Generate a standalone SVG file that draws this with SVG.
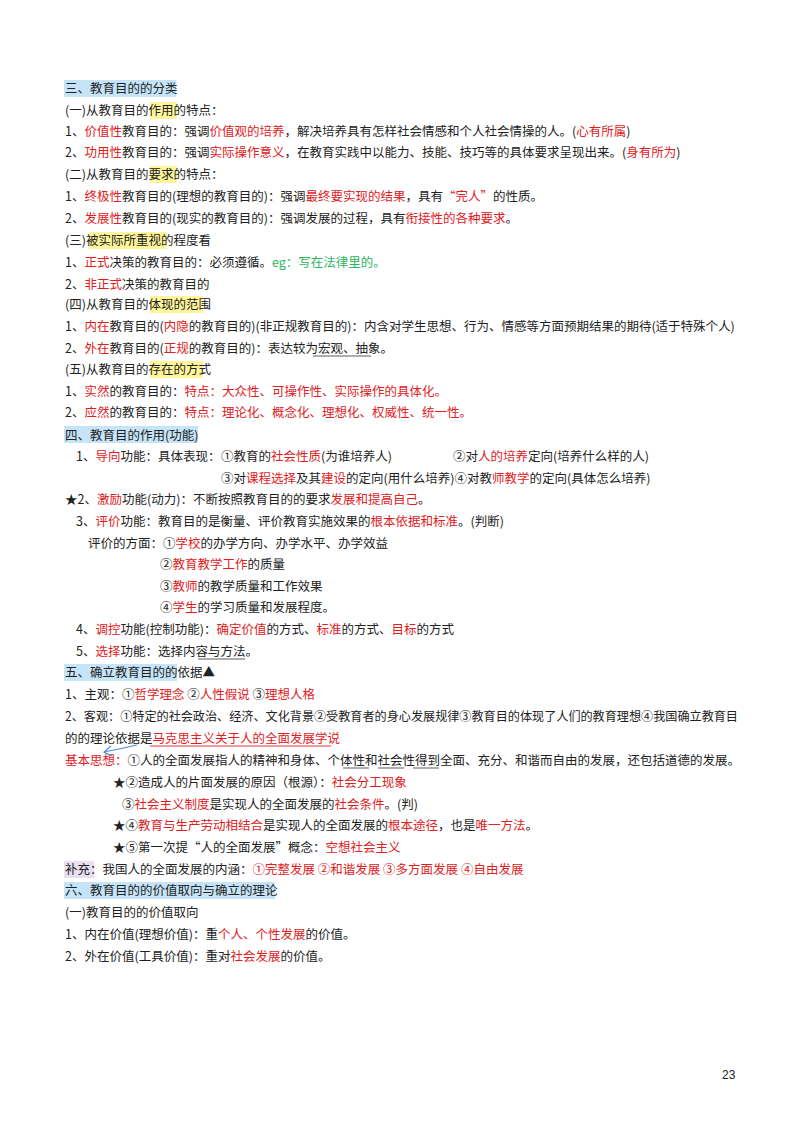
<svg xmlns="http://www.w3.org/2000/svg" width="800" height="1130" viewBox="0 0 800 1130">
<style>
text{font-family:"Noto Sans CJK SC","Noto Sans",sans-serif;font-size:12.5px;fill:#222}
.r{fill:#e0201c}.g{fill:#2bb55c}
.hb{fill:#c5e4f8}.hy{fill:#fff59a}.hp{fill:#e8e0f0}
.u{stroke:#333;stroke-width:0.8}.ur{stroke:#e0201c;stroke-width:0.9}
</style>
<rect width="800" height="1130" fill="#fff"/>
<g id="highlights">
<rect class="hb" x="64" y="80" width="112" height="17"/>
<rect class="hy" x="150" y="102" width="27" height="17"/>
<rect class="hy" x="150" y="166" width="27" height="17"/>
<rect class="hy" x="89" y="232" width="78" height="17"/>
<rect class="hy" x="150" y="296" width="53" height="17"/>
<rect class="hy" x="150" y="361" width="53" height="17"/>
<rect class="hb" x="64" y="426" width="134" height="17"/>
<rect class="hb" x="64" y="664" width="113" height="17"/>
<rect class="hp" x="64" y="861" width="30" height="17"/>
<rect class="hb" x="64" y="882" width="211" height="17"/>
</g>
<g id="text">
<text x="65" y="93">三、教育目的的分类</text>
<text x="65" y="115">(一)从教育目的作用的特点：</text>
<text x="65" y="136">1、<tspan class="r">价值性</tspan>教育目的：强调<tspan class="r">价值观的培养</tspan>，解决培养具有怎样社会情感和个人社会情操的人。(<tspan class="r">心有所属</tspan>)</text>
<text x="65" y="157">2、<tspan class="r">功用性</tspan>教育目的：强调<tspan class="r">实际操作意义</tspan>，在教育实践中以能力、技能、技巧等的具体要求呈现出来。(<tspan class="r">身有所为</tspan>)</text>
<text x="65" y="179">(二)从教育目的要求的特点：</text>
<text x="65" y="201">1、<tspan class="r">终极性</tspan>教育目的(理想的教育目的)：强调<tspan class="r">最终要实现的结果</tspan>，具有<tspan class="r">“完人”</tspan>的性质。</text>
<text x="65" y="223">2、<tspan class="r">发展性</tspan>教育目的(现实的教育目的)：强调发展的过程，具有<tspan class="r">衔接性的各种要求</tspan>。</text>
<text x="65" y="245">(三)被实际所重视的程度看</text>
<text x="65" y="267">1、<tspan class="r">正式</tspan>决策的教育目的：必须遵循。<tspan class="g">eg：写在法律里的。</tspan></text>
<text x="65" y="289">2、<tspan class="r">非正式</tspan>决策的教育目的</text>
<text x="65" y="309">(四)从教育目的体现的范围</text>
<text x="65" y="331">1、<tspan class="r">内在</tspan>教育目的(<tspan class="r">内隐</tspan>的教育目的)(非正规教育目的)：内含对学生思想、行为、情感等方面预期结果的期待(适于特殊个人)</text>
<text x="65" y="353">2、<tspan class="r">外在</tspan>教育目的(<tspan class="r">正规</tspan>的教育目的)：表达较为宏观、抽象。</text>
<text x="65" y="374">(五)从教育目的存在的方式</text>
<text x="65" y="396">1、<tspan class="r">实然</tspan>的教育目的：<tspan class="r">特点：大众性、可操作性、实际操作的具体化。</tspan></text>
<text x="65" y="417">2、<tspan class="r">应然</tspan>的教育目的：<tspan class="r">特点：理论化、概念化、理想化、权威性、统一性。</tspan></text>
<text x="65" y="440">四、教育目的作用(功能)</text>
<text x="76" y="461">1、<tspan class="r">导向</tspan>功能：具体表现：</text>
<text x="221" y="461">①教育的<tspan class="r">社会性质</tspan>(为谁培养人)</text>
<text x="453" y="461">②对<tspan class="r">人的培养</tspan>定向(培养什么样的人)</text>
<text x="221" y="483">③对<tspan class="r">课程选择</tspan>及其<tspan class="r">建设</tspan>的定向(用什么培养)④对教<tspan class="r">师教学</tspan>的定向(具体怎么培养)</text>
<text x="65" y="504">★2、<tspan class="r">激励</tspan>功能(动力)：不断按照教育目的的要求<tspan class="r">发展和提高自己</tspan>。</text>
<text x="76" y="526">3、<tspan class="r">评价</tspan>功能：教育目的是衡量、评价教育实施效果的<tspan class="r">根本依据和标准</tspan>。(判断)</text>
<text x="88" y="548">评价的方面：①<tspan class="r">学校</tspan>的办学方向、办学水平、办学效益</text>
<text x="160" y="569">②<tspan class="r">教育教学工作</tspan>的质量</text>
<text x="160" y="591">③<tspan class="r">教师</tspan>的教学质量和工作效果</text>
<text x="160" y="612">④<tspan class="r">学生</tspan>的学习质量和发展程度。</text>
<text x="76" y="634">4、<tspan class="r">调控</tspan>功能(控制功能)：<tspan class="r">确定价值</tspan>的方式、<tspan class="r">标准</tspan>的方式、<tspan class="r">目标</tspan>的方式</text>
<text x="76" y="656">5、<tspan class="r">选择</tspan>功能：选择内容与方法。</text>
<text x="65" y="677">五、确立教育目的的依据▲</text>
<text x="65" y="699">1、主观：①<tspan class="r">哲学理念</tspan> ②<tspan class="r">人性假说</tspan> ③<tspan class="r">理想人格</tspan></text>
<text x="65" y="721" textLength="673" lengthAdjust="spacingAndGlyphs">2、客观：①特定的社会政治、经济、文化背景②受教育者的身心发展规律③教育目的体现了人们的教育理想④我国确立教育目</text>
<text x="65" y="743">的的理论依据是<tspan class="r">马克思主义关于人的全面发展学说</tspan></text>
<text x="65" y="765"><tspan class="r">基本思想：</tspan>①人的全面发展指人的精神和身体、个体性和社会性得到全面、充分、和谐而自由的发展，还包括道德的发展。</text>
<text x="113" y="787">★②造成人的片面发展的原因（根源）：<tspan class="r">社会分工现象</tspan></text>
<text x="122" y="809">③<tspan class="r">社会主义制度</tspan>是实现人的全面发展的<tspan class="r">社会条件</tspan>。(判)</text>
<text x="113" y="830">★④<tspan class="r">教育与生产劳动相结合</tspan>是实现人的全面发展的<tspan class="r">根本途径</tspan>，也是<tspan class="r">唯一方法</tspan>。</text>
<text x="113" y="852">★⑤第一次提“人的全面发展”概念：<tspan class="r">空想社会主义</tspan></text>
<text x="65" y="874">补充：我国人的全面发展的内涵：<tspan class="r">①完整发展 ②和谐发展 ③多方面发展 ④自由发展</tspan></text>
<text x="65" y="895">六、教育目的的价值取向与确立的理论</text>
<text x="65" y="917">(一)教育目的的价值取向</text>
<text x="65" y="939">1、内在价值(理想价值)：重<tspan class="r">个人、个性发展</tspan>的价值。</text>
<text x="65" y="961">2、外在价值(工具价值)：重对<tspan class="r">社会发展</tspan>的价值。</text>
<text x="722" y="1079" style="font-family:'Liberation Sans',sans-serif;font-size:12px">23</text>
</g>
<g id="underlines">
<line class="u" x1="313" y1="356" x2="371" y2="356"/>
<line class="u" x1="198" y1="659" x2="245" y2="659"/>
<line class="ur" x1="150" y1="746" x2="331" y2="746"/>
<line class="u" x1="343" y1="768" x2="369" y2="768"/>
<line class="u" x1="378" y1="768" x2="404" y2="768"/>
<line class="u" x1="413" y1="768" x2="439" y2="768"/>
</g>
<g id="connectors">
<path d="M137,745 Q120,749 104,752" fill="none" stroke="#4a8fd8" stroke-width="1.2"/>
<path d="M111,746 L104,752 L112,756" fill="none" stroke="#4a8fd8" stroke-width="1.2"/>
</g>
</svg>
